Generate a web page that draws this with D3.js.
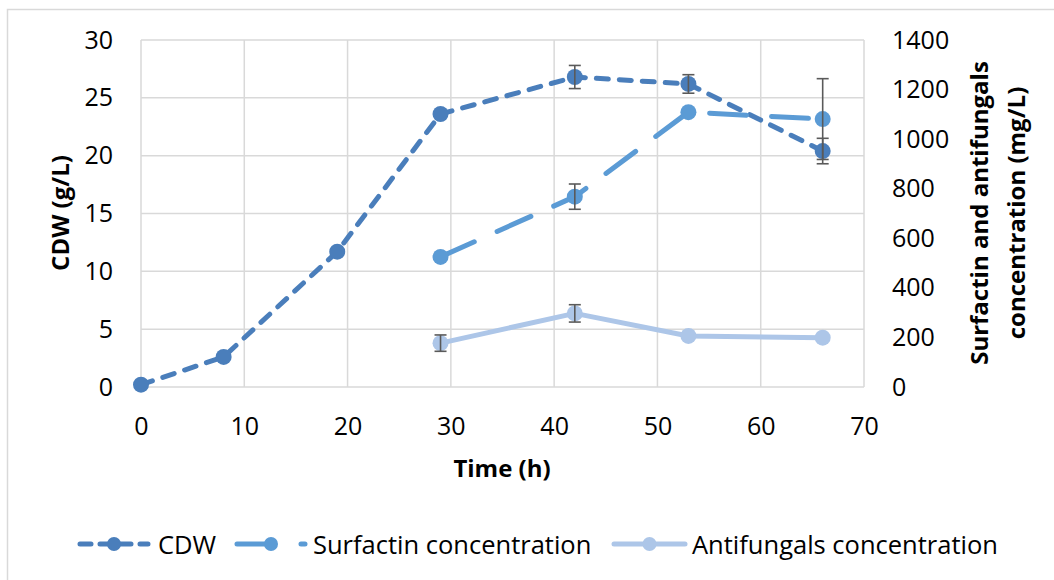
<!DOCTYPE html>
<html>
<head>
<meta charset="utf-8">
<script src="https://cdn.jsdelivr.net/npm/d3@7"></script>
<style>
  body { margin: 0; background: #fff; }
  svg { display: block; font-family: "Open Sans", sans-serif; }
</style>
</head>
<body>
<svg id="chart" width="1054" height="580"></svg>
<script>
// --- Data -------------------------------------------------------------
const timeCDW = [0, 8, 19, 29, 42, 53, 66];
const cdw = [0.2, 2.6, 11.7, 23.6, 26.8, 26.2, 20.4];
const cdwErr = [0, 0, 0, 0, 1.0, 0.8, 1.1];

const timeConc = [29, 42, 53, 66];
const surfactin = [525, 768, 1109, 1081];
const surfactinErr = [0, 51, 0, 163];
const antifungals = [177, 297, 206, 199];
const antifungalsErr = [33, 35, 0, 0];

const xTicks = [0, 10, 20, 30, 40, 50, 60, 70];
const yLeftTicks = [0, 5, 10, 15, 20, 25, 30];
const yRightTicks = [0, 200, 400, 600, 800, 1000, 1200, 1400];

const seriesNames = ['CDW', 'Surfactin concentration', 'Antifungals concentration'];

// --- Layout -----------------------------------------------------------
const svg = d3.select('#chart');
const plot = { left: 141, right: 864, top: 40, bottom: 387 };

const x = d3.scaleLinear().domain([0, 70]).range([plot.left, plot.right]);
const yL = d3.scaleLinear().domain([0, 30]).range([plot.bottom, plot.top]);
const yR = d3.scaleLinear().domain([0, 1400]).range([plot.bottom, plot.top]);

const gridColor = '#d9d9d9';
const errColor = '#5a5a5a';

// chart frame (only left/top edges show in the picture)
svg.append('path')
  .attr('d', 'M7.5,600 V9.5 H1100')
  .attr('fill', 'none')
  .attr('stroke', gridColor)
  .attr('stroke-width', 1.5);

// --- Gridlines --------------------------------------------------------
const grid = svg.append('g').attr('stroke', gridColor).attr('stroke-width', 1.5);
grid.selectAll('line.h')
  .data(yLeftTicks)
  .join('line')
  .attr('x1', plot.left).attr('x2', plot.right)
  .attr('y1', d => yL(d)).attr('y2', d => yL(d));
grid.selectAll('line.v')
  .data(xTicks)
  .join('line')
  .attr('class', 'v')
  .attr('y1', plot.top).attr('y2', plot.bottom)
  .attr('x1', d => x(d)).attr('x2', d => x(d));

// --- Axes (labels only) ----------------------------------------------
function styleAxis(g) {
  g.select('.domain').remove();
  g.selectAll('.tick line').remove();
  g.selectAll('.tick text')
    .attr('fill', '#000')
    .style('font-size', '25px')
    .style('font-family', '"Open Sans", sans-serif');
}

svg.append('g')
  .attr('transform', `translate(${plot.left},0)`)
  .call(d3.axisLeft(yL).tickValues(yLeftTicks).tickSize(0).tickPadding(28))
  .call(styleAxis);

svg.append('g')
  .attr('transform', `translate(${plot.right},0)`)
  .call(d3.axisRight(yR).tickValues(yRightTicks).tickFormat(d3.format('d')).tickSize(0).tickPadding(28))
  .call(styleAxis);

svg.append('g')
  .attr('transform', `translate(0,${plot.bottom})`)
  .call(d3.axisBottom(x).tickValues(xTicks).tickSize(0).tickPadding(30))
  .call(styleAxis);

// axis titles
const titleStyle = t => t
  .attr('text-anchor', 'middle')
  .attr('dominant-baseline', 'central')
  .style('font-weight', 'bold')
  .style('font-size', '24px');

svg.append('text')
  .attr('transform', 'translate(59,213) rotate(-90)')
  .text('CDW (g/L)')
  .call(titleStyle);

svg.append('text')
  .attr('transform', 'translate(502,467)')
  .text('Time (h)')
  .call(titleStyle);

svg.append('text')
  .attr('transform', 'translate(978,213) rotate(-90)')
  .text('Surfactin and antifungals')
  .call(titleStyle);

svg.append('text')
  .attr('transform', 'translate(1015,213) rotate(-90)')
  .text('concentration (mg/L)')
  .call(titleStyle);

// --- Series -----------------------------------------------------------
const series = [
  { name: seriesNames[0], t: timeCDW, v: cdw, e: cdwErr, y: yL, color: '#4a7ebb', dash: '12,11' },
  { name: seriesNames[1], t: timeConc, v: surfactin, e: surfactinErr, y: yR, color: '#5b9bd5', dash: '37,25' },
  { name: seriesNames[2], t: timeConc, v: antifungals, e: antifungalsErr, y: yR, color: '#adc6e8', dash: null },
];

series.forEach(s => {
  const pts = s.t.map((t, i) => ({ t, v: s.v[i], e: s.e[i] }));
  const line = d3.line().x(d => x(d.t)).y(d => s.y(d.v));
  const g = svg.append('g');

  g.append('path')
    .attr('d', line(pts))
    .attr('fill', 'none')
    .attr('stroke', s.color)
    .attr('stroke-width', 5)
    .attr('stroke-linecap', 'round')
    .attr('stroke-linejoin', 'round')
    .attr('stroke-dasharray', s.dash);

  g.selectAll('circle')
    .data(pts)
    .join('circle')
    .attr('cx', d => x(d.t))
    .attr('cy', d => s.y(d.v))
    .attr('r', 8)
    .attr('fill', s.color);

  s.pts = pts;
});

// error bars on top of all series
const errG = svg.append('g').attr('stroke', errColor).attr('stroke-width', 1.6);
series.forEach(s => {
  s.pts.filter(d => d.e > 0).forEach(d => {
    const cx = x(d.t);
    const y0 = s.y(d.v - d.e);
    const y1 = s.y(d.v + d.e);
    errG.append('line').attr('x1', cx).attr('x2', cx).attr('y1', y0).attr('y2', y1);
    errG.append('line').attr('x1', cx - 6).attr('x2', cx + 6).attr('y1', y0).attr('y2', y0);
    errG.append('line').attr('x1', cx - 6).attr('x2', cx + 6).attr('y1', y1).attr('y2', y1);
  });
});

// --- Legend -----------------------------------------------------------
const legendY = 544;
const legendItems = [
  { x0: 80, x1: 148, text: 158 },
  { x0: 237, x1: 305, text: 313 },
  { x0: 614, x1: 685, text: 692 },
];

const legend = svg.append('g');
series.forEach((s, i) => {
  const it = legendItems[i];
  legend.append('line')
    .attr('x1', it.x0).attr('x2', it.x1)
    .attr('y1', legendY).attr('y2', legendY)
    .attr('stroke', s.color)
    .attr('stroke-width', 5)
    .attr('stroke-linecap', 'round')
    .attr('stroke-dasharray', s.dash ? (i === 0 ? '11,9' : '36,28') : null);
  legend.append('circle')
    .attr('cx', (it.x0 + it.x1) / 2)
    .attr('cy', legendY)
    .attr('r', 7)
    .attr('fill', s.color);
  legend.append('text')
    .attr('x', it.text)
    .attr('y', legendY)
    .attr('dominant-baseline', 'central')
    .style('font-size', '25.5px')
    .text(s.name);
});
</script>
</body>
</html>
